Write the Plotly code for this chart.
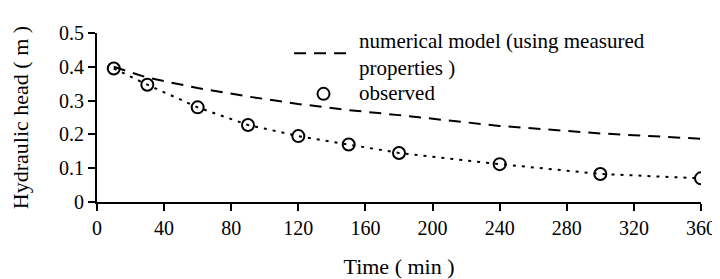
import plotly.graph_objects as go

obs_time = [10, 30, 60, 90, 120, 135, 150, 180, 240, 300, 360]
obs_head = [0.395, 0.347, 0.28, 0.228, 0.195, 0.32, 0.17, 0.145, 0.112, 0.083, 0.07]

trend_time = [10, 30, 60, 90, 120, 150, 180, 240, 300, 360]
trend_head = [0.395, 0.347, 0.28, 0.228, 0.195, 0.17, 0.145, 0.112, 0.083, 0.07]

model_time = [10, 30, 60, 90, 120, 150, 180, 240, 300, 360]
model_head = [0.40, 0.368, 0.337, 0.312, 0.29, 0.272, 0.257, 0.225, 0.203, 0.187]

x_ticks = [0, 40, 80, 120, 160, 200, 240, 280, 320, 360]
y_ticks = [0, 0.1, 0.2, 0.3, 0.4, 0.5]

FONT = "Liberation Serif"

fig = go.Figure()
fig.add_trace(go.Scatter(
    x=model_time, y=model_head, mode="lines",
    name="numerical model (using measured<br>properties )",
    line=dict(color="black", width=2, dash="12px,8px"),
    legend="legend",
))
fig.add_trace(go.Scatter(
    x=trend_time, y=trend_head, mode="lines", showlegend=False,
    line=dict(color="black", width=2, dash="3px,6px"),
))
fig.add_trace(go.Scatter(
    x=obs_time, y=obs_head, mode="markers", showlegend=False,
    marker=dict(symbol="circle-open", size=12, color="black", line=dict(width=2, color="black")),
))
fig.add_trace(go.Scatter(
    x=[None], y=[None], mode="markers", name="observed",
    marker=dict(color="rgba(0,0,0,0)", size=1),
    legend="legend2",
))

fig.update_layout(
    width=720, height=279,
    margin=dict(l=89, r=19, t=24, b=81),
    paper_bgcolor="white", plot_bgcolor="white",
    font=dict(family=FONT, size=20, color="black"),
    legend=dict(x=0.318, y=1.08, xanchor="left", yanchor="top",
                bgcolor="rgba(0,0,0,0)", tracegroupgap=0,
                font=dict(family=FONT, size=21), itemwidth=60),
    legend2=dict(x=0.318, y=0.772, xanchor="left", yanchor="top",
                 bgcolor="rgba(0,0,0,0)", tracegroupgap=0,
                 font=dict(family=FONT, size=21), itemwidth=60),
    xaxis=dict(range=[0, 360], tickvals=x_ticks, showgrid=False, zeroline=False,
               showline=True, linecolor="black", linewidth=2,
               ticks="outside", ticklen=7, tickwidth=2, tickcolor="black",
               tickfont=dict(family=FONT, size=20),
               title=dict(text="Time ( min )", standoff=21, font=dict(family=FONT, size=22))),
    yaxis=dict(range=[0, 0.5], tickvals=y_ticks, showgrid=False, zeroline=False,
               showline=True, linecolor="black", linewidth=2,
               ticks="outside", ticklen=7, tickwidth=2, tickcolor="black",
               tickfont=dict(family=FONT, size=20),
               title=dict(text="Hydraulic head ( m )", standoff=24, font=dict(family=FONT, size=22))),
)

fig.write_html("out.html")
